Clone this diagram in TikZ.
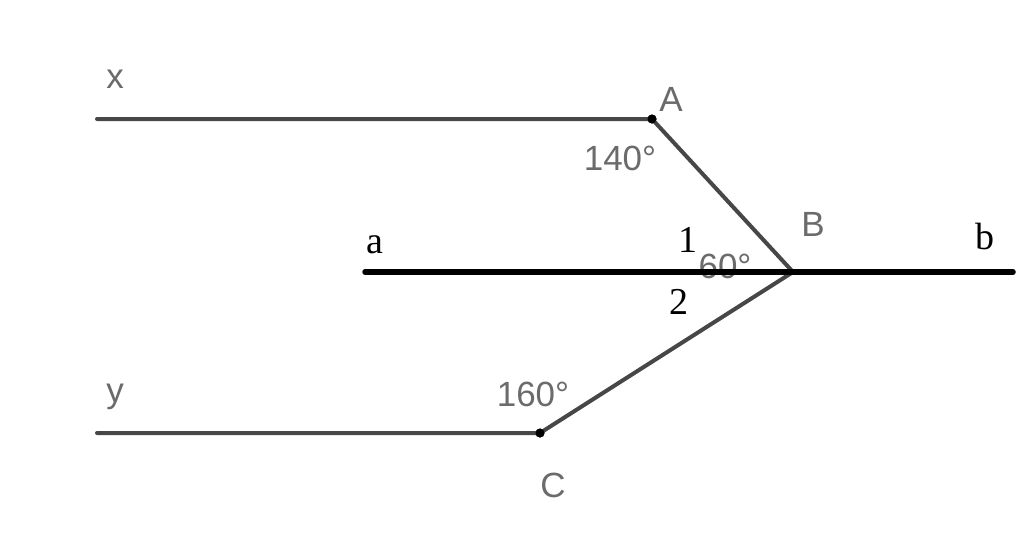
\documentclass[tikz,border=0pt]{standalone}
\usepackage{fontspec}
\setmainfont{Liberation Serif}
\setsansfont{Liberation Sans}
\begin{document}
\begin{tikzpicture}[x=1pt,y=-1pt,
  gline/.style={draw=black!72,line width=4pt,line cap=round},
  bline/.style={draw=black,line width=5.5pt,line cap=round},
  glabel/.style={text=black!58,font=\sffamily\fontsize{35}{40}\selectfont,inner sep=0pt},
  slabel/.style={text=black,font=\fontsize{38}{42}\selectfont,inner sep=0pt},
  dotp/.style={circle,fill=black,inner sep=0pt,minimum size=9pt}]
\useasboundingbox (0,0) rectangle (1024,550);
\coordinate (X) at (97,119);
\coordinate (Y) at (97,433);
\coordinate (P) at (365,272);
\coordinate (Q) at (1013,272);
\node[dotp] (A) at (652,119) {};
\node[dotp] (C) at (540,433) {};
\coordinate (B) at (793,272);
\draw[gline] (X) -- (A.center) -- (B) -- (C.center) -- (Y);
\node[dotp] at (A) {};
\node[dotp] at (C) {};
\node[glabel] (t60) at (725,266) {60°};
\draw[bline] (P) -- (Q);
\node[glabel] (lx) at (115,79) {x};
\node[glabel] (ly) at (115,397) {y};
\node[glabel] (lA) at (671,99) {A};
\node[glabel] (lB) at (813,224) {B};
\node[glabel] (lC) at (553,485) {C};
\node[glabel] (t140) at (620,158) {140°};
\node[glabel] (t160) at (533,394) {160°};
\node[slabel] (la) at (375,245) {a};
\node[slabel] (lb) at (985,236) {b};
\node[slabel] (l1) at (688,240) {1};
\node[slabel] (l2) at (679,302) {2};
\end{tikzpicture}
\end{document}
